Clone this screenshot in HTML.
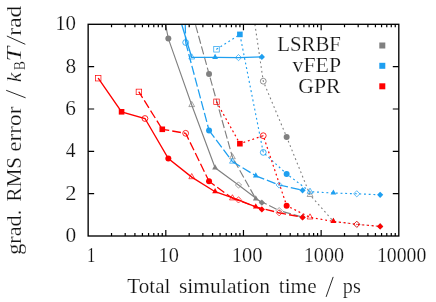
<!DOCTYPE html>
<html><head><meta charset="utf-8"><style>
html,body{margin:0;padding:0;background:#fff;}
svg{display:block;will-change:transform;}
text{font-family:"Liberation Serif",serif;font-size:20px;fill:#111;stroke:#fff;stroke-width:0.2px;}
</style></head><body>
<svg width="436" height="302" viewBox="0 0 436 302">
<rect width="436" height="302" fill="#fff"/>
<clipPath id="cp"><rect x="88.15" y="24.3" width="310.65" height="211.7"/></clipPath>
<g clip-path="url(#cp)">
<path d="M144.96,-80.00 L168.34,38.60 L191.72,105.00 L215.10,167.80 L238.48,185.00 L261.86,202.70" fill="none" stroke="#808080" stroke-width="1.12" />
<circle cx="168.34" cy="38.60" r="3.0" fill="#808080" stroke="none"/>
<path d="M191.72,101.42 L194.62,106.60 L188.82,106.60 Z" fill="none" stroke="#808080" stroke-width="0.7"/><circle cx="191.72" cy="105.00" r="0.45" fill="#808080"/>
<path d="M215.10,164.22 L218.00,169.40 L212.20,169.40 Z" fill="#808080" stroke="none"/>
<path d="M238.48,181.90 L241.58,185.00 L238.48,188.10 L235.38,185.00 Z" fill="none" stroke="#808080" stroke-width="0.7"/><circle cx="238.48" cy="185.00" r="0.45" fill="#808080"/>
<path d="M261.86,199.60 L264.96,202.70 L261.86,205.80 L258.76,202.70 Z" fill="#808080" stroke="none"/>
<path d="M185.66,-10.80 L209.04,73.90" fill="none" stroke="#808080" stroke-width="1.15" stroke-dasharray="8.3 2.7" stroke-dashoffset="6.70"/>
<path d="M209.04,73.90 L232.42,157.20" fill="none" stroke="#808080" stroke-width="1.15" stroke-dasharray="8.3 2.7" stroke-dashoffset="7.10"/>
<path d="M232.42,157.20 L255.80,198.90" fill="none" stroke="#808080" stroke-width="1.15" stroke-dasharray="8.3 2.7" stroke-dashoffset="7.10"/>
<path d="M255.80,198.90 L279.18,210.60" fill="none" stroke="#808080" stroke-width="1.15" stroke-dasharray="8.3 2.7" stroke-dashoffset="7.10"/>
<path d="M279.18,210.60 L302.56,217.20" fill="none" stroke="#808080" stroke-width="1.15" stroke-dasharray="8.3 2.7" stroke-dashoffset="7.10"/>
<circle cx="209.04" cy="73.90" r="3.0" fill="#808080" stroke="none"/>
<path d="M232.42,153.62 L235.32,158.80 L229.52,158.80 Z" fill="none" stroke="#808080" stroke-width="0.7"/><circle cx="232.42" cy="157.20" r="0.45" fill="#808080"/>
<path d="M255.80,195.32 L258.70,200.50 L252.90,200.50 Z" fill="#808080" stroke="none"/>
<path d="M279.18,207.50 L282.28,210.60 L279.18,213.70 L276.08,210.60 Z" fill="none" stroke="#808080" stroke-width="0.7"/><circle cx="279.18" cy="210.60" r="0.45" fill="#808080"/>
<path d="M302.56,214.10 L305.66,217.20 L302.56,220.30 L299.46,217.20 Z" fill="#808080" stroke="none"/>
<path d="M333.40,221.40 L356.78,224.30 L380.16,226.40" fill="none" stroke="#808080" stroke-width="1.1" stroke-dasharray="1.8 2.9" opacity="0.5"/>
<path d="M239.88,-78.00 L263.26,81.20 L286.64,137.00 L310.02,194.90 L333.40,221.40" fill="none" stroke="#808080" stroke-width="1.1" stroke-dasharray="1.8 2.9" stroke-dashoffset="0"/>
<circle cx="263.26" cy="81.20" r="2.9" fill="none" stroke="#808080" stroke-width="0.85"/><circle cx="263.26" cy="81.20" r="0.45" fill="#808080"/>
<circle cx="286.64" cy="137.00" r="3.0" fill="#808080" stroke="none"/>
<path d="M310.02,191.32 L312.92,196.50 L307.12,196.50 Z" fill="none" stroke="#808080" stroke-width="0.7"/><circle cx="310.02" cy="194.90" r="0.45" fill="#808080"/>
<path d="M333.40,217.82 L336.30,223.00 L330.50,223.00 Z" fill="#808080" stroke="none"/>
<path d="M356.78,221.20 L359.88,224.30 L356.78,227.40 L353.68,224.30 Z" fill="none" stroke="#808080" stroke-width="0.7"/><circle cx="356.78" cy="224.30" r="0.45" fill="#808080"/>
<path d="M380.16,223.30 L383.26,226.40 L380.16,229.50 L377.06,226.40 Z" fill="#808080" stroke="none"/>
<path d="M168.34,-19.50 L191.72,57.40 L215.10,57.40 L238.48,57.60 L261.86,56.90" fill="none" stroke="#1e9ff0" stroke-width="1.35" />
<path d="M191.72,53.82 L194.62,59.00 L188.82,59.00 Z" fill="none" stroke="#1e9ff0" stroke-width="0.7"/><circle cx="191.72" cy="57.40" r="0.45" fill="#1e9ff0"/>
<path d="M215.10,53.82 L218.00,59.00 L212.20,59.00 Z" fill="#1e9ff0" stroke="none"/>
<path d="M238.48,54.50 L241.58,57.60 L238.48,60.70 L235.38,57.60 Z" fill="none" stroke="#1e9ff0" stroke-width="0.7"/><circle cx="238.48" cy="57.60" r="0.45" fill="#1e9ff0"/>
<path d="M261.86,53.80 L264.96,56.90 L261.86,60.00 L258.76,56.90 Z" fill="#1e9ff0" stroke="none"/>
<path d="M162.28,-1000.00 L185.66,42.50" fill="none" stroke="#1e9ff0" stroke-width="1.28" stroke-dasharray="9.3 2.9" stroke-dashoffset="0.30"/>
<path d="M185.66,42.50 L209.04,130.40" fill="none" stroke="#1e9ff0" stroke-width="1.28" stroke-dasharray="9.3 2.9" stroke-dashoffset="0.30"/>
<path d="M209.04,130.40 L232.42,161.60" fill="none" stroke="#1e9ff0" stroke-width="1.28" stroke-dasharray="9.3 2.9" stroke-dashoffset="0.30"/>
<path d="M232.42,161.60 L255.80,175.80" fill="none" stroke="#1e9ff0" stroke-width="1.28" stroke-dasharray="9.3 2.9" stroke-dashoffset="0.30"/>
<path d="M255.80,175.80 L279.18,185.00" fill="none" stroke="#1e9ff0" stroke-width="1.28" stroke-dasharray="9.3 2.9" stroke-dashoffset="0.30"/>
<path d="M279.18,185.00 L302.56,190.30" fill="none" stroke="#1e9ff0" stroke-width="1.28" stroke-dasharray="9.3 2.9" stroke-dashoffset="0.30"/>
<circle cx="185.66" cy="42.50" r="2.9" fill="none" stroke="#1e9ff0" stroke-width="0.85"/><circle cx="185.66" cy="42.50" r="0.45" fill="#1e9ff0"/>
<circle cx="209.04" cy="130.40" r="3.0" fill="#1e9ff0" stroke="none"/>
<path d="M232.42,158.02 L235.32,163.20 L229.52,163.20 Z" fill="none" stroke="#1e9ff0" stroke-width="0.7"/><circle cx="232.42" cy="161.60" r="0.45" fill="#1e9ff0"/>
<path d="M255.80,172.22 L258.70,177.40 L252.90,177.40 Z" fill="#1e9ff0" stroke="none"/>
<path d="M279.18,181.90 L282.28,185.00 L279.18,188.10 L276.08,185.00 Z" fill="none" stroke="#1e9ff0" stroke-width="0.7"/><circle cx="279.18" cy="185.00" r="0.45" fill="#1e9ff0"/>
<path d="M302.56,187.20 L305.66,190.30 L302.56,193.40 L299.46,190.30 Z" fill="#1e9ff0" stroke="none"/>
<path d="M216.50,49.30 L239.88,34.40 L263.26,152.40 L286.64,173.90 L310.02,191.70 L333.40,193.00 L356.78,193.80 L380.16,194.80" fill="none" stroke="#1e9ff0" stroke-width="1.15" stroke-dasharray="1.9 2.8" stroke-dashoffset="0"/>
<rect x="213.75" y="46.55" width="5.5" height="5.5" fill="none" stroke="#1e9ff0" stroke-width="0.7"/><circle cx="216.50" cy="49.30" r="0.45" fill="#1e9ff0"/>
<rect x="237.08" y="31.60" width="5.6" height="5.6" fill="#1e9ff0" stroke="none"/>
<circle cx="263.26" cy="152.40" r="2.9" fill="none" stroke="#1e9ff0" stroke-width="0.85"/><circle cx="263.26" cy="152.40" r="0.45" fill="#1e9ff0"/>
<circle cx="286.64" cy="173.90" r="3.0" fill="#1e9ff0" stroke="none"/>
<path d="M310.02,188.12 L312.92,193.30 L307.12,193.30 Z" fill="none" stroke="#1e9ff0" stroke-width="0.7"/><circle cx="310.02" cy="191.70" r="0.45" fill="#1e9ff0"/>
<path d="M333.40,189.42 L336.30,194.60 L330.50,194.60 Z" fill="#1e9ff0" stroke="none"/>
<path d="M356.78,190.70 L359.88,193.80 L356.78,196.90 L353.68,193.80 Z" fill="none" stroke="#1e9ff0" stroke-width="0.7"/><circle cx="356.78" cy="193.80" r="0.45" fill="#1e9ff0"/>
<path d="M380.16,191.70 L383.26,194.80 L380.16,197.90 L377.06,194.80 Z" fill="#1e9ff0" stroke="none"/>
<path d="M98.20,78.20 L121.58,111.80 L144.96,118.50 L168.34,158.50 L191.72,177.10 L215.10,191.70 L238.48,199.90 L261.86,209.40" fill="none" stroke="#ff0000" stroke-width="1.35" />
<rect x="95.45" y="75.45" width="5.5" height="5.5" fill="none" stroke="#ff0000" stroke-width="0.7"/><circle cx="98.20" cy="78.20" r="0.45" fill="#ff0000"/>
<rect x="118.78" y="109.00" width="5.6" height="5.6" fill="#ff0000" stroke="none"/>
<circle cx="144.96" cy="118.50" r="2.9" fill="none" stroke="#ff0000" stroke-width="0.85"/><circle cx="144.96" cy="118.50" r="0.45" fill="#ff0000"/>
<circle cx="168.34" cy="158.50" r="3.0" fill="#ff0000" stroke="none"/>
<path d="M191.72,173.52 L194.62,178.70 L188.82,178.70 Z" fill="none" stroke="#ff0000" stroke-width="0.7"/><circle cx="191.72" cy="177.10" r="0.45" fill="#ff0000"/>
<path d="M215.10,188.12 L218.00,193.30 L212.20,193.30 Z" fill="#ff0000" stroke="none"/>
<path d="M238.48,196.80 L241.58,199.90 L238.48,203.00 L235.38,199.90 Z" fill="none" stroke="#ff0000" stroke-width="0.7"/><circle cx="238.48" cy="199.90" r="0.45" fill="#ff0000"/>
<path d="M261.86,206.30 L264.96,209.40 L261.86,212.50 L258.76,209.40 Z" fill="#ff0000" stroke="none"/>
<path d="M138.90,91.90 L162.28,129.30" fill="none" stroke="#ff0000" stroke-width="1.3" stroke-dasharray="8.8 3.1" stroke-dashoffset="1.80"/>
<path d="M162.28,129.30 L185.66,133.30" fill="none" stroke="#ff0000" stroke-width="1.3" stroke-dasharray="8.8 3.1" stroke-dashoffset="1.80"/>
<path d="M185.66,133.30 L209.04,181.30" fill="none" stroke="#ff0000" stroke-width="1.3" stroke-dasharray="8.8 3.1" stroke-dashoffset="1.80"/>
<path d="M209.04,181.30 L232.42,198.30" fill="none" stroke="#ff0000" stroke-width="1.3" stroke-dasharray="8.8 3.1" stroke-dashoffset="1.80"/>
<path d="M232.42,198.30 L255.80,206.80" fill="none" stroke="#ff0000" stroke-width="1.3" stroke-dasharray="8.8 3.1" stroke-dashoffset="1.80"/>
<path d="M255.80,206.80 L279.18,212.80" fill="none" stroke="#ff0000" stroke-width="1.3" stroke-dasharray="8.8 3.1" stroke-dashoffset="1.80"/>
<path d="M279.18,212.80 L302.56,217.40" fill="none" stroke="#ff0000" stroke-width="1.3" stroke-dasharray="8.8 3.1" stroke-dashoffset="1.80"/>
<rect x="136.15" y="89.15" width="5.5" height="5.5" fill="none" stroke="#ff0000" stroke-width="0.7"/><circle cx="138.90" cy="91.90" r="0.45" fill="#ff0000"/>
<rect x="159.48" y="126.50" width="5.6" height="5.6" fill="#ff0000" stroke="none"/>
<circle cx="185.66" cy="133.30" r="2.9" fill="none" stroke="#ff0000" stroke-width="0.85"/><circle cx="185.66" cy="133.30" r="0.45" fill="#ff0000"/>
<circle cx="209.04" cy="181.30" r="3.0" fill="#ff0000" stroke="none"/>
<path d="M232.42,194.72 L235.32,199.90 L229.52,199.90 Z" fill="none" stroke="#ff0000" stroke-width="0.7"/><circle cx="232.42" cy="198.30" r="0.45" fill="#ff0000"/>
<path d="M255.80,203.22 L258.70,208.40 L252.90,208.40 Z" fill="#ff0000" stroke="none"/>
<path d="M279.18,209.70 L282.28,212.80 L279.18,215.90 L276.08,212.80 Z" fill="none" stroke="#ff0000" stroke-width="0.7"/><circle cx="279.18" cy="212.80" r="0.45" fill="#ff0000"/>
<path d="M302.56,214.30 L305.66,217.40 L302.56,220.50 L299.46,217.40 Z" fill="#ff0000" stroke="none"/>
<path d="M216.50,101.80 L239.88,143.70 L263.26,135.70 L286.64,205.70 L310.02,217.40 L333.40,221.40 L356.78,224.30 L380.16,226.40" fill="none" stroke="#ff0000" stroke-width="1.2" stroke-dasharray="1.9 2.8" stroke-dashoffset="0"/>
<rect x="213.75" y="99.05" width="5.5" height="5.5" fill="none" stroke="#ff0000" stroke-width="0.7"/><circle cx="216.50" cy="101.80" r="0.45" fill="#ff0000"/>
<rect x="237.08" y="140.90" width="5.6" height="5.6" fill="#ff0000" stroke="none"/>
<circle cx="263.26" cy="135.70" r="2.9" fill="none" stroke="#ff0000" stroke-width="0.85"/><circle cx="263.26" cy="135.70" r="0.45" fill="#ff0000"/>
<circle cx="286.64" cy="205.70" r="3.0" fill="#ff0000" stroke="none"/>
<path d="M310.02,213.82 L312.92,219.00 L307.12,219.00 Z" fill="none" stroke="#ff0000" stroke-width="0.7"/><circle cx="310.02" cy="217.40" r="0.45" fill="#ff0000"/>
<path d="M333.40,217.82 L336.30,223.00 L330.50,223.00 Z" fill="#ff0000" stroke="none"/>
<path d="M356.78,221.20 L359.88,224.30 L356.78,227.40 L353.68,224.30 Z" fill="none" stroke="#ff0000" stroke-width="0.7"/><circle cx="356.78" cy="224.30" r="0.45" fill="#ff0000"/>
<path d="M380.16,223.30 L383.26,226.40 L380.16,229.50 L377.06,226.40 Z" fill="#ff0000" stroke="none"/>
</g>
<rect x="88.15" y="24.3" width="310.65" height="211.7" fill="none" stroke="#000" stroke-width="1.35"/>
<path d="M111.53,236.0 v-3 M111.53,24.3 v3 M125.20,236.0 v-3 M125.20,24.3 v3 M134.91,236.0 v-3 M134.91,24.3 v3 M142.43,236.0 v-3 M142.43,24.3 v3 M148.58,236.0 v-3 M148.58,24.3 v3 M153.78,236.0 v-3 M153.78,24.3 v3 M158.29,236.0 v-3 M158.29,24.3 v3 M162.26,236.0 v-3 M162.26,24.3 v3 M165.81,236.0 v-6 M165.81,24.3 v6 M189.19,236.0 v-3 M189.19,24.3 v3 M202.87,236.0 v-3 M202.87,24.3 v3 M212.57,236.0 v-3 M212.57,24.3 v3 M220.10,236.0 v-3 M220.10,24.3 v3 M226.25,236.0 v-3 M226.25,24.3 v3 M231.44,236.0 v-3 M231.44,24.3 v3 M235.95,236.0 v-3 M235.95,24.3 v3 M239.92,236.0 v-3 M239.92,24.3 v3 M243.47,236.0 v-6 M243.47,24.3 v6 M266.85,236.0 v-3 M266.85,24.3 v3 M280.53,236.0 v-3 M280.53,24.3 v3 M290.23,236.0 v-3 M290.23,24.3 v3 M297.76,236.0 v-3 M297.76,24.3 v3 M303.91,236.0 v-3 M303.91,24.3 v3 M309.11,236.0 v-3 M309.11,24.3 v3 M313.61,236.0 v-3 M313.61,24.3 v3 M317.58,236.0 v-3 M317.58,24.3 v3 M321.14,236.0 v-6 M321.14,24.3 v6 M344.52,236.0 v-3 M344.52,24.3 v3 M358.19,236.0 v-3 M358.19,24.3 v3 M367.89,236.0 v-3 M367.89,24.3 v3 M375.42,236.0 v-3 M375.42,24.3 v3 M381.57,236.0 v-3 M381.57,24.3 v3 M386.77,236.0 v-3 M386.77,24.3 v3 M391.27,236.0 v-3 M391.27,24.3 v3 M395.25,236.0 v-3 M395.25,24.3 v3 M88.15,193.66 h6 M398.8,193.66 h-6 M88.15,151.32 h6 M398.8,151.32 h-6 M88.15,108.98 h6 M398.8,108.98 h-6 M88.15,66.64 h6 M398.8,66.64 h-6" stroke="#000" stroke-width="1.2" fill="none"/>
<rect x="379.3" y="42.5" width="6" height="6" fill="#808080"/>
<rect x="379.3" y="62.8" width="6" height="6" fill="#1e9ff0"/>
<rect x="379.3" y="83.3" width="6" height="6" fill="#ff0000"/>
<text transform="translate(87.04,261.80) scale(0.8369,1)" style="font-size:20px">1</text>
<text transform="translate(158.62,261.80) scale(1.0171,1)" style="font-size:20px">10</text>
<text transform="translate(231.71,261.80) scale(1.0255,1)" style="font-size:20px">100</text>
<text transform="translate(303.74,261.80) scale(1.0080,1)" style="font-size:20px">1000</text>
<text transform="translate(376.97,261.80) scale(0.9874,1)" style="font-size:20px">10000</text>
<text transform="translate(65.40,241.90) scale(1.0706,1)" style="font-size:20px">0</text>
<text transform="translate(65.24,199.56) scale(1.1304,1)" style="font-size:20px">2</text>
<text transform="translate(65.81,157.22) scale(0.9785,1)" style="font-size:20px">4</text>
<text transform="translate(65.30,114.88) scale(1.0643,1)" style="font-size:20px">6</text>
<text transform="translate(65.40,72.54) scale(1.0706,1)" style="font-size:20px">8</text>
<text transform="translate(55.17,30.20) scale(1.0457,1)" style="font-size:20px">10</text>
<text transform="translate(127.33,292.50) scale(1.0562,1)" style="font-size:20px">Total</text>
<text transform="translate(178.94,292.50) scale(1.0786,1)" style="font-size:20px">simulation</text>
<text transform="translate(278.79,292.50) scale(1.0649,1)" style="font-size:20px">time</text>
<text transform="translate(342.80,292.50) scale(1.0090,1)" style="font-size:20px">ps</text>
<path d="M326.1,296.9 L333.2,276.9" stroke="#111" stroke-width="0.9" fill="none"/>
<text transform="translate(277.23,51.00) scale(1.0426,1)" style="font-size:20px">LSRBF</text>
<text transform="translate(292.60,71.80) scale(1.0892,1)" style="font-size:20px">vFEP</text>
<text transform="translate(298.23,92.60) scale(1.0880,1)" style="font-size:20px">GPR</text>
<text transform="translate(20.90,254.75) rotate(-90) scale(1.1120,1)" style="font-size:20px">grad.</text>
<text transform="translate(20.90,201.38) rotate(-90) scale(1.0532,1)" style="font-size:20px">RMS</text>
<text transform="translate(20.90,151.73) rotate(-90) scale(1.1609,1)" style="font-size:20px">error</text>
<path d="M25.6,97.8 L6.2,90.3 M25.3,44.3 L6.9,36.0" stroke="#111" stroke-width="0.9" fill="none"/>
<text transform="translate(20.90,82.25) rotate(-90) scale(1.0877,1)" style="font-size:20px" font-style="italic">k</text>
<text transform="translate(24.60,70.18) rotate(-90) scale(0.8581,1)" style="font-size:16px">B</text>
<text transform="translate(20.90,61.61) rotate(-90) scale(1.3182,1)" style="font-size:20px" font-style="italic">T</text>
<text transform="translate(20.90,35.67) rotate(-90) scale(1.1767,1)" style="font-size:20px">rad</text>
</svg></body></html>
